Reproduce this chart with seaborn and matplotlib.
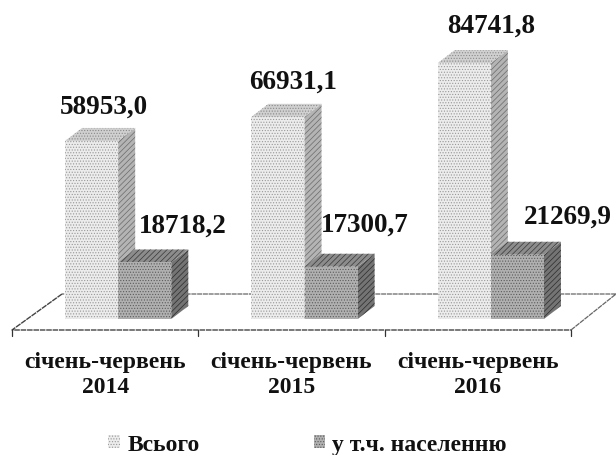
import pandas as pd
import matplotlib
matplotlib.use("Agg")
import matplotlib.pyplot as plt
import seaborn as sns
from matplotlib.patches import Polygon
from matplotlib.transforms import ScaledTranslation

periods = ["січень-червень\n2014", "січень-червень\n2015", "січень-червень\n2016"]
series_names = ["Всього", "у т.ч. населенню"]
total = [58953.0, 66931.1, 84741.8]
households = [18718.2, 17300.7, 21269.9]
value_labels = ["58953,0", "66931,1", "84741,8", "18718,2", "17300,7", "21269,9"]

# label shift from the bar's front top centre, px
label_shift = [(12, 35), (15, 36), (27, 38), (38, 37), (34, 43), (50, 39)]

W, H = 616, 456
DEPTH_X, DEPTH_Y = 17, 13

df = pd.DataFrame({
    "period": periods * 2,
    "series": [series_names[0]] * 3 + [series_names[1]] * 3,
    "value": total + households,
})

sns.set_theme(style="white")
plt.rcParams["font.family"] = ["Liberation Serif", "DejaVu Serif"]
plt.rcParams["font.weight"] = "bold"
plt.rcParams["hatch.linewidth"] = 0.5

fig = plt.figure(figsize=(W / 100, H / 100), dpi=100)
# baseline at y=320 px, 3.02 px per 1000 units
ax = fig.add_axes([25 / W, (H - 320) / H, 559 / W, 302 / H])
sns.barplot(data=df, x="period", y="value", hue="series", order=periods,
            hue_order=series_names, width=0.57, gap=0, saturation=1,
            palette=["#e8e8e8", "#a8a8a8"], legend=False, ax=ax)
ax.set_xlim(-0.5, 2.5)
ax.set_ylim(0, 100000)
ax.set_xlabel("")
ax.set_ylabel("")
ax.set_yticks([])
sns.despine(ax=ax, left=True, bottom=True)
ax.patch.set_alpha(0)

px_x = 3 / 559
px_y = 100000 / 302
dx, dy = DEPTH_X * px_x, DEPTH_Y * px_y

styles = [
    {"front": ("#ececec", "#989898", "......"), "side": ("#b4b4b4", "#6a6a6a", "//////"),
     "top": ("#d0d0d0", "#8a8a8a", "......")},
    {"front": ("#b0b0b0", "#5c5c5c", "......"), "side": ("#747474", "#2c2c2c", "//////"),
     "top": ("#8c8c8c", "#383838", "//////")},
]

bars = [b for b in ax.patches]
for i, bar in enumerate(bars):
    st = styles[0] if i < 3 else styles[1]
    z = 3 if i < 3 else 5
    fc, ec, hatch = st["front"]
    bar.set(facecolor=fc, edgecolor=ec, hatch=hatch, linewidth=0, zorder=z)
    x0, x1 = bar.get_x(), bar.get_x() + bar.get_width()
    top = bar.get_height()
    side = [(x1, 0), (x1 + dx, dy), (x1 + dx, top + dy), (x1, top)]
    lid = [(x0, top), (x0 + dx, top + dy), (x1 + dx, top + dy), (x1, top)]
    for pts, key in ((side, "side"), (lid, "top")):
        fc, ec, hatch = st[key]
        ax.add_patch(Polygon(pts, closed=True, facecolor=fc, edgecolor=ec, hatch=hatch,
                             linewidth=0, zorder=z - 1, clip_on=False))
    sx, sy = label_shift[i]
    ax.annotate(value_labels[i], (bar.get_x() + bar.get_width() / 2, top),
                xytext=(sx * 0.72, sy * 0.72), textcoords="offset points",
                ha="center", va="center", fontsize=19.5, fontweight="bold",
                color="#111111", annotation_clip=False, zorder=8)

# floor: front edge is 12 px below the baseline and shifted 13 px left
fx0, fx1 = -0.5 - 13 * px_x, 2.5 - 13 * px_x
fy = -11 * px_y
bx, by = 50 * px_x, 36 * px_y
ax.plot([fx1, fx1 + 45 * px_x, fx0 + bx], [fy, fy + by, fy + by], color="#666666", lw=0.9,
        ls=(0, (4, 0.6)), zorder=1, clip_on=False)
ax.plot([fx0 + bx, fx0, fx1], [fy + by, fy, fy], color="#444444", lw=1.0,
        ls=(0, (4, 0.6)), zorder=1, clip_on=False)
for k in range(4):
    xt = fx0 + k
    ax.plot([xt, xt], [fy, fy - 6 * px_y], color="#333333", lw=0.9, zorder=1, clip_on=False)

# category labels sit under the floor, at the shifted tick centres
ax.set_xticks(range(3))
ax.set_xticklabels(periods, fontsize=17, fontweight="bold", color="#111111", linespacing=1.25)
ax.tick_params(axis="x", length=0, pad=23)
shift = ScaledTranslation(-13 / 100, 0, fig.dpi_scale_trans)
for lab in ax.get_xticklabels():
    lab.set_transform(lab.get_transform() + shift)

# legend
handles = [plt.Rectangle((0, 0), 1, 1, facecolor=styles[j]["front"][0], edgecolor=styles[j]["front"][1],
                         hatch=styles[j]["front"][2], linewidth=0) for j in range(2)]
fig.legend(handles, series_names, ncol=2, frameon=False, loc="lower left",
           bbox_to_anchor=(106 / W, -2 / H), borderaxespad=0, borderpad=0.1,
           prop={"size": 17, "weight": "bold"},
           handlelength=0.5, handleheight=0.5, handletextpad=0.3, columnspacing=4.83,
           labelcolor="#111111")

fig.savefig("out.png", dpi=100)
